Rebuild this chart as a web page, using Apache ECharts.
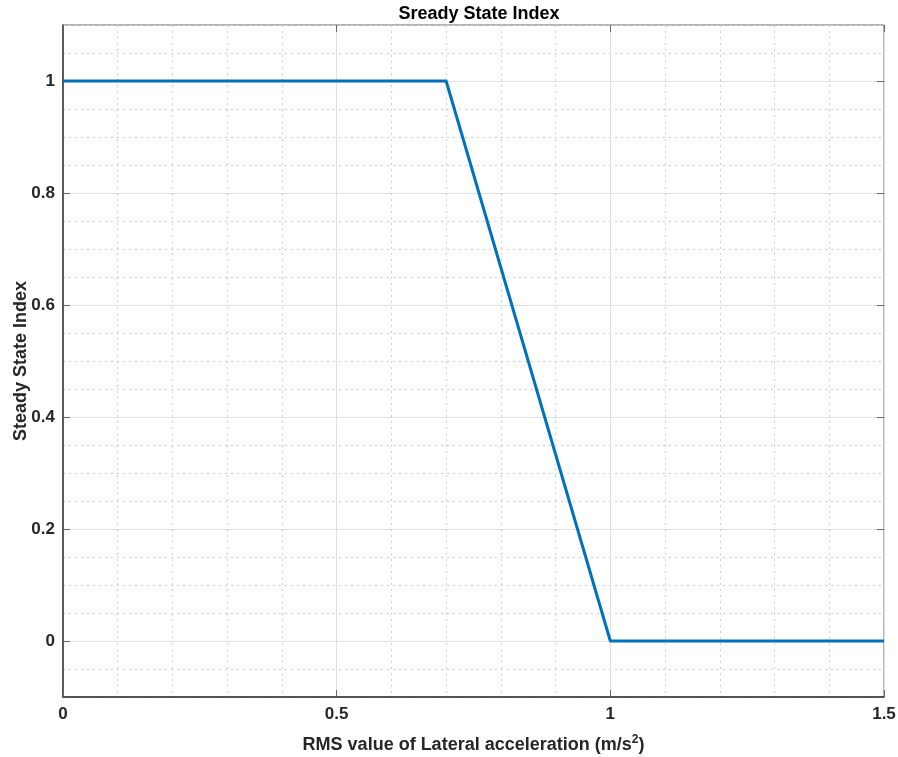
<!DOCTYPE html>
<html><head><meta charset="utf-8">
<script src="https://cdn.jsdelivr.net/npm/echarts@6/dist/echarts.min.js"></script>
<style>html,body{margin:0;padding:0;background:#fff}#c{width:898px;height:757px}</style>
</head><body><div id="c"></div>
<script>
const xValues = [0, 0.7, 1.0, 1.5];
const yValues = [1, 1, 0, 0];
const yMajorTicks = [0, 0.2, 0.4, 0.6, 0.8, 1];
const xTickLabels = ['0', '0.5', '1', '1.5'];
const titleText = 'Sready State Index';
const xLabel = 'RMS value of Lateral acceleration (m/s{sup|2})';
const yLabel = 'Steady State Index';

const FONT = '"Liberation Sans", Arial, Helvetica, sans-serif';
const TXT = '#262626';
const chart = echarts.init(document.getElementById('c'));
chart.setOption({
  animation: false,
  title: {
    text: titleText, left: 474, top: 0, textAlign: 'center',
    textStyle: {fontFamily: FONT, fontWeight: 'bold', fontSize: 18, color: '#000'}
  },
  grid: [
    {left: 63, right: 14, top: 25, bottom: 60, show: true, borderColor: '#6a6a6a', borderWidth: 1,
     backgroundColor: 'transparent', containLabel: false, outerBoundsMode: 'none'},
    {left: 63, right: 14, top: 81, bottom: 116, show: false, containLabel: false, outerBoundsMode: 'none'}
  ],
  xAxis: [
    {gridIndex: 0, type: 'value', min: 0, max: 1.5, interval: 0.5, position: 'bottom',
     axisLine: {show: true, onZero: false, lineStyle: {color: '#333', width: 1.5}},
     axisTick: {show: true, inside: true, length: 7, lineStyle: {color: '#666'}},
     axisLabel: {margin: 9, fontFamily: FONT, fontWeight: 'bold', fontSize: 17, color: TXT,
       formatter: v => xTickLabels[Math.round(v / 0.5)]},
     splitLine: {show: true, lineStyle: {color: '#e0e0e0', width: 1}},
     minorTick: {show: false, splitNumber: 5},
     minorSplitLine: {show: true, lineStyle: {color: '#cfcfcf', type: [2, 4], width: 1}},
     name: xLabel, nameLocation: 'middle', nameGap: 37,
     nameTextStyle: {fontFamily: FONT, fontWeight: 'bold', fontSize: 18, color: TXT,
       rich: {sup: {fontFamily: FONT, fontWeight: 'bold', fontSize: 12, color: TXT, verticalAlign: 'top', padding: [0, 0, 11, 0]}}}
    },
    {gridIndex: 0, type: 'value', min: 0, max: 1.5, interval: 0.5, position: 'top',
     axisLine: {show: false, onZero: false}, axisLabel: {show: false}, splitLine: {show: false},
     axisTick: {show: true, inside: true, length: 7, lineStyle: {color: '#666'}}},
    {gridIndex: 1, type: 'value', min: 0, max: 1.5, show: false,
     axisLine: {show: false, onZero: false}, axisTick: {show: false}, axisLabel: {show: false}, splitLine: {show: false}}
  ],
  yAxis: [
    {gridIndex: 0, type: 'value', min: -0.1, max: 1.1, interval: 0.05,
     axisLine: {show: true, onZero: false, lineStyle: {color: '#333', width: 1.5}},
     axisTick: {show: false}, axisLabel: {show: false},
     splitLine: {show: true, lineStyle: {color: '#cfcfcf', type: [2, 4], width: 1}}},
    {gridIndex: 1, type: 'value', min: 0, max: 1, interval: 0.2, position: 'left',
     axisLine: {show: false, onZero: false},
     axisTick: {show: true, inside: true, length: 7, lineStyle: {color: '#666'}},
     axisLabel: {margin: 8, fontFamily: FONT, fontWeight: 'bold', fontSize: 17, color: TXT,
       formatter: v => { const t = yMajorTicks.find(m => Math.abs(m - v) < 1e-6); return t === undefined ? '' : String(t); }},
     splitLine: {show: true, lineStyle: {color: '#e0e0e0', width: 1}}},
    {gridIndex: 1, type: 'value', min: 0, max: 1, interval: 0.2, position: 'right',
     axisLine: {show: false, onZero: false}, axisLabel: {show: false}, splitLine: {show: false},
     axisTick: {show: true, inside: true, length: 7, lineStyle: {color: '#666'}}},
    {gridIndex: 0, type: 'value', min: -0.1, max: 1.1, show: true, position: 'left',
     axisLine: {show: false, onZero: false}, axisTick: {show: false}, axisLabel: {show: false}, splitLine: {show: false},
     name: yLabel, nameLocation: 'middle', nameGap: 33, nameRotate: 90,
     nameTextStyle: {fontFamily: FONT, fontWeight: 'bold', fontSize: 18, color: TXT}}
  ],
  series: [{
    type: 'line', xAxisIndex: 0, yAxisIndex: 0,
    data: xValues.map((x, i) => [x, yValues[i]]),
    showSymbol: false, symbol: 'none', z: 5,
    lineStyle: {color: '#0072BD', width: 3}
  }]
});
</script></body></html>
